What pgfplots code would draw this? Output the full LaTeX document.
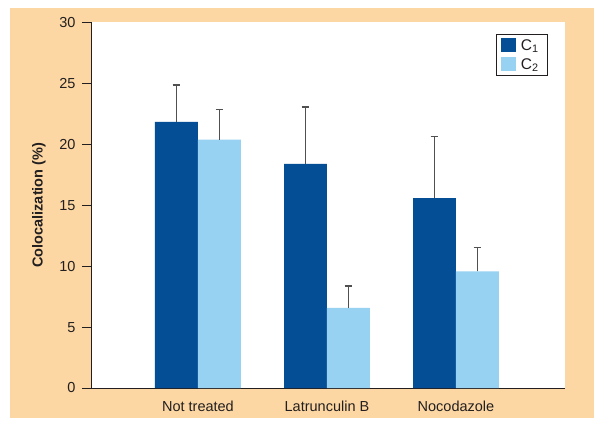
\documentclass[border=0pt]{standalone}
\usepackage{pgfplots}
\pgfplotsset{compat=1.18}
\usepackage{fontspec}
\setmainfont{Liberation Sans}
\definecolor{peach}{HTML}{FCD7A3}
\definecolor{dblue}{HTML}{044E96}
\definecolor{lblue}{HTML}{98D2F2}
\definecolor{txt}{HTML}{231F20}
\definecolor{errgray}{HTML}{505050}
\begin{document}
\begin{tikzpicture}[x=1pt,y=1pt]
\fill[white] (0,0) rectangle (600,426);
\fill[peach] (10,8) rectangle (594,418);
\begin{axis}[
  at={(91pt,38pt)}, anchor=south west,
  scale only axis, width=474pt, height=365.5pt,
  ymin=0, ymax=30, xmin=-0.829, xmax=2.845,
  axis x line*=bottom, axis y line*=left,
  axis line style={txt, line width=0.9pt},
  axis background/.style={fill=white},
  ytick={0,5,...,30},
  tick align=outside,
  major tick length=9pt,
  every tick/.style={txt, line width=0.9pt},
  xtick={0,1,2},
  xticklabels={Not treated, Latrunculin B, Nocodazole},
  x tick style={draw=none},
  tick label style={font=\fontsize{14.5}{17}\selectfont, text=txt},
  yticklabel style={xshift=-3pt},
  /pgf/number format/assume math mode=true,
  ylabel={\textbf{Colocalization (\%)}},
  every axis y label/.style={at={(axis description cs:-0.11,0.5)}, rotate=90, anchor=center, font=\fontsize{14.5}{17}\selectfont, text=txt},
  ybar=0pt, bar width=0.333,
  legend style={at={(0.964,0.9685)}, anchor=north east, draw=txt, line width=0.8pt,
    font=\fontsize{15.5}{18}\selectfont, text=txt, inner xsep=4pt, inner ysep=4pt, row sep=5pt,
    nodes={inner xsep=5pt, inner ysep=0pt}},
  legend image code/.code={\fill[#1] (0pt,-7pt) rectangle (15pt,7pt);},
]
\addplot[fill=dblue, draw=none,
  error bars/.cd, y dir=plus, y explicit,
  error bar style={line width=1pt, color=errgray},
  error mark options={rotate=90, mark size=3.8pt, line width=1.5pt, color=errgray}]
  coordinates {(0,21.85) +- (0,3.01) (1,18.40) +- (0,4.65) (2,15.58) +- (0,5.06)};
\addplot[fill=lblue, draw=none,
  error bars/.cd, y dir=plus, y explicit,
  error bar style={line width=1pt, color=errgray},
  error mark options={rotate=90, mark size=3.8pt, line width=1.5pt, color=errgray}]
  coordinates {(0,20.39) +- (0,2.47) (1,6.57) +- (0,1.81) (2,9.58) +- (0,1.94)};
\legend{C\textsubscript{1}, C\textsubscript{2}}
\end{axis}
\end{tikzpicture}
\end{document}
